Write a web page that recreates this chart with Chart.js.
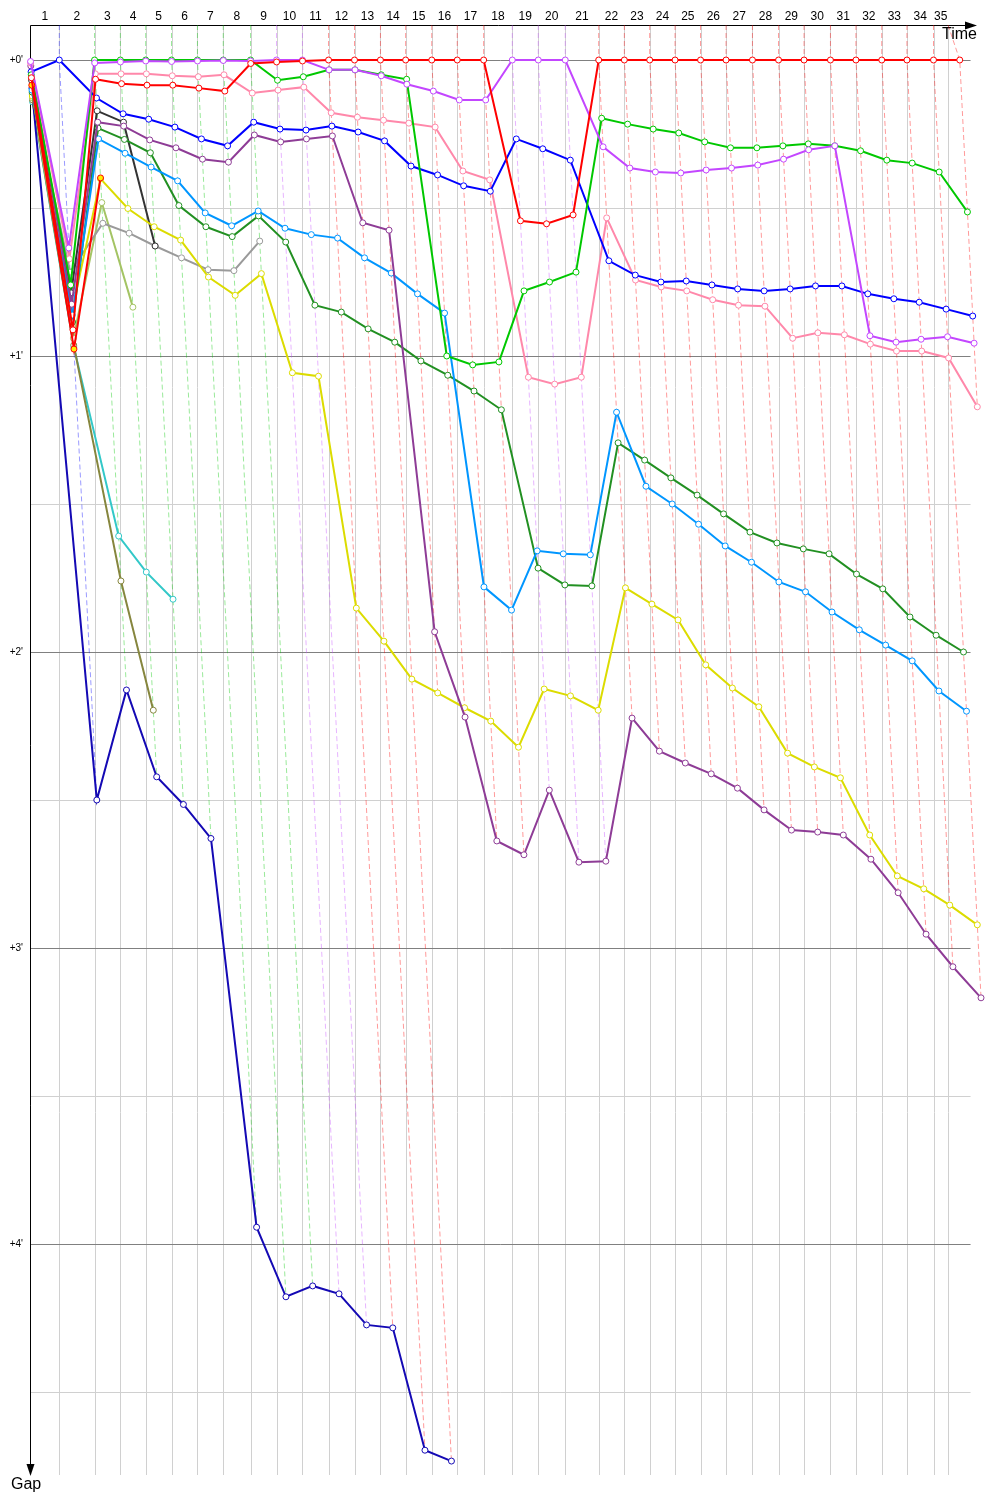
<!DOCTYPE html>
<html><head><meta charset="utf-8">
<script src="https://cdn.jsdelivr.net/npm/chart.js@4.4.1/dist/chart.umd.min.js"></script>
<style>html,body{margin:0;padding:0;background:#fff}canvas{display:block}</style>
</head><body>
<canvas id="c" width="1000" height="1500"></canvas>
<script>
// ---------- DATA ----------
// lap numbers shown along the top (time) axis
const lapLabels = ['1','2','3','4','5','6','7','8','9','10','11','12','13','14','15','16','17','18','19','20','21','22','23','24','25','26','27','28','29','30','31','32','33','34','35'];
// gap axis tick labels (minutes)
const gapTickLabels = ["+0'", "+1'", "+2'", "+3'", "+4'"];
const gapTickValues = [0, 1, 2, 3, 4];
const gapMinorValues = [0.5, 1.5, 2.5, 3.5, 4.5];
// race time (minutes) at which each lap mark is drawn
const lapMarks = [1.92,4.27,5.99,7.68,9.40,11.13,12.85,14.67,16.40,18.13,19.87,21.60,23.33,25.01,26.75,28.45,30.21,32.12,33.85,35.65,37.88,39.59,41.28,42.97,44.67,46.37,48.13,49.87,51.57,53.33,55.03,56.75,58.43,60.20,61.17];
// leader's race time (minutes) at the end of each lap
const leaderTimes = [1.92,4.27,5.99,7.68,9.40,11.13,12.85,14.67,16.40,18.13,19.87,21.60,23.33,25.01,26.75,28.45,30.21,32.12,33.85,35.65,37.88,39.59,41.28,42.97,44.67,46.37,48.13,49.87,51.57,53.33,55.03,56.75,58.43,60.20,61.95];

// gap to the leader (seconds) for each driver, from the start (lap 0) onwards
const redGaps        = [3.6,54.7,3.9,4.8,5.1,5.1,5.7,6.3,0.7,0.4,0.2,0,0,0,0,0,0,0,32.6,33.2,31.4,0,0,0,0,0,0,0,0,0,0,0,0,0,0,0];
const redYellowGaps  = [5.1,58.6,23.9];
const purpleGaps     = [0.3,38.1,0.6,0.4,0.2,0.3,0.2,0.1,0.2,0,0,2.0,2.0,3.2,4.9,6.3,8.1,8.1,0,0,0,17.6,21.9,22.7,22.9,22.3,21.9,21.3,20.1,18.2,17.4,55.9,57.2,56.6,56.1,57.4];
const greenGaps      = [3.0,45.6,0,0,0,0,0,0,0,4.1,3.4,2.0,2.0,3.0,3.9,60.0,61.8,61.2,46.8,45.0,43.0,11.8,13.0,14.0,14.8,16.6,17.8,17.8,17.4,17.0,17.4,18.4,20.3,20.9,22.7,30.8];
const blueGaps       = [2.4,0,7.7,10.9,12.0,13.6,16.0,17.4,12.6,14.0,14.2,13.4,14.6,16.4,21.5,23.3,25.5,26.6,16.0,18.0,20.3,40.7,43.6,45.0,44.8,45.6,46.4,46.8,46.4,45.8,45.8,47.4,48.4,49.1,50.5,51.9];
const pinkGaps       = [0.6,40.3,2.8,2.8,2.8,3.2,3.4,3.0,6.7,6.1,5.5,10.7,11.6,12.2,12.8,13.6,22.5,24.3,64.3,65.7,64.3,32.0,44.6,46.0,46.8,48.6,49.7,49.9,56.4,55.3,55.7,57.6,59.0,59.0,60.4,70.3];
const darkPurpleGaps = [1.2,49.5,12.6,13.4,16.2,17.8,20.1,20.7,15.2,16.6,16.0,15.4,33.0,34.5,115.9,133.2,158.3,161.1,148.0,162.6,162.4,133.4,140.1,142.5,144.7,147.6,152.0,156.1,156.5,157.1,162.0,168.8,177.2,183.8,190.1];
const skyBlueGaps    = [6.1,51.7,16.0,18.9,21.7,24.5,31.0,33.6,30.6,34.1,35.4,36.1,40.1,43.2,47.4,51.3,106.8,111.5,99.5,100.1,100.3,71.4,86.4,90.0,94.1,98.5,101.8,105.8,107.8,111.9,115.5,118.6,121.8,127.9,132.0];
const darkGreenGaps  = [6.5,53.1,13.8,16.1,18.8,29.5,33.8,35.8,31.6,36.9,49.7,51.1,54.5,57.2,61.0,63.9,67.1,70.9,103.0,106.4,106.6,77.6,81.1,84.7,88.2,92.0,95.7,97.9,99.1,100.1,104.2,107.2,112.9,116.6,120.0];
const yellowGaps     = [7.3,50.9,24.1,30.1,33.8,36.5,44.0,47.7,43.3,63.4,64.1,111.1,117.8,125.5,128.3,131.3,134.0,139.3,127.5,128.9,131.8,107.0,110.3,113.5,122.6,127.3,131.1,140.5,143.3,145.5,157.1,165.4,168.0,171.3,175.3];
const navyGaps       = [5.7,150.0,127.7,145.3,150.9,157.8,236.6,250.7,248.5,250.1,256.4,257.0,281.8,284.0];
const blackGaps      = [4.1,47.2,10.3,12.6,37.7];
const grayGaps       = [6.9,43.0,33.1,35.1,37.7,40.1,42.5,42.7,36.7];
const yellowGreenGaps= [7.7,56.4,28.9,50.1];
const oliveGaps      = [8.1,57.8,105.6,131.8];
const turquoiseGaps  = [8.5,58.2,96.5,103.8,109.3];

// ---------- STYLES ----------
const drivers = [
  {gaps: redGaps,        color: '#ff0000'},
  {gaps: redYellowGaps,  color: '#ff0000', fill: '#ffee00'},
  {gaps: purpleGaps,     color: '#c346ff'},
  {gaps: greenGaps,      color: '#00c800'},
  {gaps: blueGaps,       color: '#0000ff'},
  {gaps: pinkGaps,       color: '#ff88aa'},
  {gaps: darkPurpleGaps, color: '#8e3c96'},
  {gaps: skyBlueGaps,    color: '#0096ff'},
  {gaps: darkGreenGaps,  color: '#229022'},
  {gaps: yellowGaps,     color: '#dcdc00'},
  {gaps: navyGaps,       color: '#1409b4'},
  {gaps: blackGaps,      color: '#333333'},
  {gaps: grayGaps,       color: '#9a9a9a'},
  {gaps: yellowGreenGaps,color: '#a4c464'},
  {gaps: oliveGaps,      color: '#86863e'},
  {gaps: turquoiseGaps,  color: '#33c8c8'}
];

const X_MIN = -0.5/15, X_MAX = X_MIN + 960/15;
const Y_MIN = -35/296, Y_MAX = Y_MIN + 1450/296;
const GRID_END = 62.67;
const FONT = '"Liberation Sans", Arial, sans-serif';

function lapTime(k){ return k === 0 ? 0 : leaderTimes[k-1]; }
function rgba(hex, a){
  const n = parseInt(hex.slice(1), 16);
  return `rgba(${(n>>16)&255},${(n>>8)&255},${n&255},${a})`;
}

const datasets = [];
drivers.forEach((d, i) => {
  datasets.push({
    data: d.gaps.map((g, k) => ({x: lapTime(k) + g/60, y: g/60})),
    showLine: true, borderColor: d.color, borderWidth: 2,
    pointRadius: 3, pointBorderWidth: 1, pointBorderColor: d.color,
    pointBackgroundColor: d.fill || '#ffffff',
    order: i, clip: false
  });
});
for (let n = 1; n <= leaderTimes.length; n++) {
  let maxG = 0, minG = Infinity, leader = null;
  drivers.forEach(d => {
    if (d.gaps.length > n) {
      const g = d.gaps[n];
      if (g > maxG) maxG = g;
      if (g < minG) { minG = g; leader = d; }
    }
  });
  datasets.push({
    data: [{x: lapMarks[n-1], y: Y_MIN}, {x: leaderTimes[n-1], y: 0}, {x: leaderTimes[n-1] + maxG/60, y: maxG/60}],
    showLine: true, borderColor: rgba(leader.color, 0.4), borderWidth: 1, borderDash: [5, 3],
    pointRadius: 0, order: 100 + n, clip: false
  });
}

const framePlugin = {
  id: 'frame',
  beforeDatasetsDraw(chart) {
    const {ctx, chartArea: a, scales: {x, y}} = chart;
    const L = Math.round(x.getPixelForValue(0));
    const R = x.getPixelForValue(GRID_END);
    ctx.save();
    ctx.lineWidth = 1;
    // vertical lap marks
    ctx.strokeStyle = '#d0d0d0';
    lapMarks.forEach(t => {
      const px = Math.round(x.getPixelForValue(t)) + 0.5;
      ctx.beginPath(); ctx.moveTo(px, a.top); ctx.lineTo(px, a.bottom); ctx.stroke();
    });
    // half-minute lines
    gapMinorValues.forEach(v => {
      const py = Math.round(y.getPixelForValue(v)) + 0.5;
      ctx.beginPath(); ctx.moveTo(L, py); ctx.lineTo(R, py); ctx.stroke();
    });
    // minute lines
    ctx.strokeStyle = '#808080';
    gapTickValues.forEach(v => {
      const py = Math.round(y.getPixelForValue(v)) + 0.5;
      ctx.beginPath(); ctx.moveTo(L, py); ctx.lineTo(R, py); ctx.stroke();
    });
    // axes
    ctx.strokeStyle = '#000'; ctx.fillStyle = '#000';
    const ax = 30.5, ay = 25.5;
    ctx.beginPath(); ctx.moveTo(ax, ay); ctx.lineTo(966, ay); ctx.stroke();
    ctx.beginPath(); ctx.moveTo(965, ay - 4); ctx.lineTo(977, ay); ctx.lineTo(965, ay + 4); ctx.closePath(); ctx.fill();
    ctx.beginPath(); ctx.moveTo(ax, ay); ctx.lineTo(ax, 1466); ctx.stroke();
    ctx.beginPath(); ctx.moveTo(ax - 4, 1464); ctx.lineTo(ax, 1476); ctx.lineTo(ax + 4, 1464); ctx.closePath(); ctx.fill();
    // lap labels
    ctx.font = '12px ' + FONT; ctx.textAlign = 'center'; ctx.textBaseline = 'middle';
    lapLabels.forEach((lab, i) => {
      const t0 = i === 0 ? 0 : lapMarks[i-1];
      const cx = (x.getPixelForValue(t0) + x.getPixelForValue(lapMarks[i])) / 2;
      ctx.fillText(lab, cx, 17);
    });
    // gap tick labels
    ctx.font = '10px ' + FONT; ctx.textAlign = 'right';
    gapTickLabels.forEach((lab, i) => {
      ctx.fillText(lab, 23, y.getPixelForValue(gapTickValues[i]));
    });
    // axis titles
    ctx.font = '16px ' + FONT;
    ctx.textAlign = 'right'; ctx.fillText('Time', 977, 35);
    ctx.textAlign = 'left'; ctx.fillText('Gap', 11, 1485);
    ctx.restore();
  }
};

new Chart(document.getElementById('c').getContext('2d'), {
  type: 'scatter',
  data: {datasets},
  options: {
    responsive: false, animation: false, devicePixelRatio: 1, events: [],
    layout: {padding: {left: 30, right: 10, top: 25, bottom: 25}},
    plugins: {legend: {display: false}, tooltip: {enabled: false}},
    elements: {line: {tension: 0}},
    scales: {
      x: {type: 'linear', min: X_MIN, max: X_MAX, display: false},
      y: {type: 'linear', min: Y_MIN, max: Y_MAX, reverse: true, display: false}
    }
  },
  plugins: [framePlugin]
});
</script>
</body></html>
